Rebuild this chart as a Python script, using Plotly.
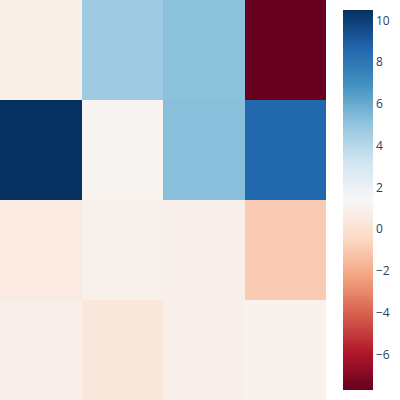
import plotly.graph_objects as go

# values, top row first
row1 = [0.87, 4.7, 5.15, -7.7]
row2 = [10.5, 1.2, 5.25, 8.6]
row3 = [0.56, 0.95, 0.9, -0.96]
row4 = [0.9, 0.37, 0.9, 1.0]
z = [row1, row2, row3, row4]

fig = go.Figure(go.Heatmap(
    z=z,
    colorscale="RdBu",
    colorbar=dict(x=343/400, xanchor="left", xpad=0, thickness=30,
                  outlinewidth=0, len=1, ypad=10),
))
fig.update_layout(
    width=400, height=400,
    margin=dict(l=0, r=0, t=0, b=0, pad=0, autoexpand=False),
    xaxis=dict(domain=[0, 326/400], showticklabels=False, showgrid=False, zeroline=False),
    yaxis=dict(autorange="reversed", showticklabels=False, showgrid=False, zeroline=False),
    plot_bgcolor="white", paper_bgcolor="white",
)
fig.write_html("out.html", config={"displayModeBar": False},
               post_script="document.body.style.margin='0';")
